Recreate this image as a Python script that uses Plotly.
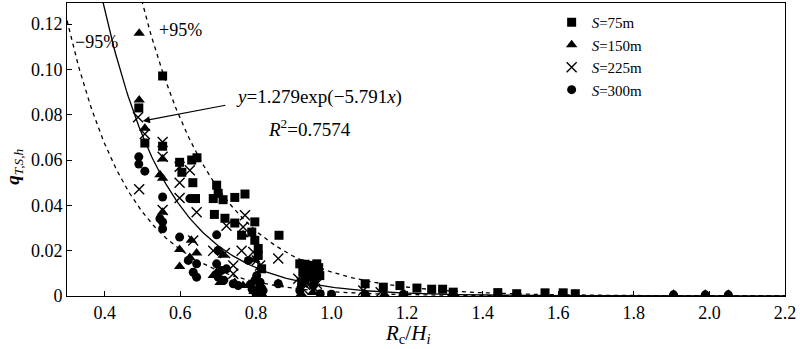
import numpy as np
import plotly.graph_objects as go

# Overtopping rate q_T,S,h versus relative freeboard Rc/Hi for four spacings S
x_s75 = [0.553, 0.490, 0.506, 0.553, 0.598, 0.630, 0.644, 0.604, 0.633, 0.640,
         0.696, 0.700, 0.687, 0.713, 0.744, 0.771, 0.690, 0.718, 0.744, 0.797,
         0.762, 0.789, 0.797, 0.806, 0.806, 0.815, 0.861, 0.916, 0.924, 0.938,
         0.947, 0.961, 0.961, 0.969, 0.935, 0.921, 0.930, 0.955, 0.942, 0.966,
         0.930, 0.955, 1.089, 1.137, 1.181, 1.226, 1.265, 1.294, 1.322, 1.440,
         1.490, 1.565, 1.613, 1.645]
y_s75 = [0.0971, 0.0830, 0.0675, 0.0661, 0.0590, 0.0600, 0.0610, 0.0546, 0.0500, 0.0430,
         0.0489, 0.0453, 0.0430, 0.0425, 0.0435, 0.0450, 0.0360, 0.0343, 0.0322, 0.0327,
         0.0268, 0.0282, 0.0246, 0.0210, 0.0179, 0.0120, 0.0268, 0.0142, 0.0105, 0.0090,
         0.0135, 0.0142, 0.0105, 0.0090, 0.0125, 0.0060, 0.0140, 0.0120, 0.0110, 0.0125,
         0.0075, 0.0075, 0.0054, 0.0039, 0.0046, 0.0035, 0.0030, 0.0030, 0.0017, 0.0015,
         0.0010, 0.0014, 0.0014, 0.0010]

x_s150 = [0.491, 0.491, 0.506, 0.553, 0.553, 0.546, 0.553, 0.598, 0.598, 0.629,
          0.643, 0.625, 0.687, 0.696, 0.713, 0.744, 0.766, 0.766, 0.859, 0.797,
          0.810, 0.705, 0.795, 0.815, 0.920, 0.950, 1.090, 1.140, 1.190, 1.322,
          1.440, 1.490, 1.565, 1.613, 1.645, 1.905, 1.989, 2.050]
y_s150 = [0.1160, 0.0865, 0.0740, 0.0605, 0.0520, 0.0535, 0.0370, 0.0205, 0.0130, 0.0246,
          0.0190, 0.0170, 0.0090, 0.0105, 0.0180, 0.0060, 0.0046, 0.0270, 0.0055, 0.0160,
          0.0030, 0.0060, 0.0020, 0.0010, 0.0010, 0.0015, 0.0008, 0.0008, 0.0008, 0.0008,
          0.0008, 0.0008, 0.0008, 0.0008, 0.0008, 0.0008, 0.0008, 0.0008]

x_s225 = [0.488, 0.506, 0.553, 0.553, 0.491, 0.553, 0.598, 0.598, 0.598, 0.625,
          0.643, 0.634, 0.687, 0.718, 0.722, 0.740, 0.740, 0.771, 0.766, 0.762,
          0.793, 0.802, 0.811, 0.859, 0.912, 0.921, 0.947, 0.961, 0.924, 0.956,
          0.930, 1.084, 1.130]
y_s225 = [0.0789, 0.0715, 0.0680, 0.0615, 0.0471, 0.0380, 0.0570, 0.0500, 0.0432, 0.0555,
          0.0370, 0.0245, 0.0200, 0.0190, 0.0310, 0.0135, 0.0098, 0.0356, 0.0305, 0.0200,
          0.0194, 0.0157, 0.0135, 0.0165, 0.0076, 0.0061, 0.0061, 0.0054, 0.0032, 0.0032,
          0.0050, 0.0024, 0.0017]

x_s300 = [0.490, 0.490, 0.506, 0.553, 0.546, 0.553, 0.553, 0.598, 0.625, 0.621,
          0.643, 0.634, 0.643, 0.696, 0.696, 0.709, 0.722, 0.700, 0.700, 0.740,
          0.753, 0.780, 0.802, 0.811, 0.806, 0.819, 0.797, 0.859, 0.916, 0.951,
          0.938, 0.970, 1.000, 1.090, 1.190, 0.790, 0.800, 0.815, 0.785, 0.810,
          0.715, 1.905, 1.989, 2.050]
y_s300 = [0.0614, 0.0582, 0.0551, 0.0437, 0.0341, 0.0327, 0.0297, 0.0260, 0.0430, 0.0157,
          0.0142, 0.0105, 0.0083, 0.0270, 0.0142, 0.0113, 0.0120, 0.0201, 0.0083, 0.0054,
          0.0046, 0.0157, 0.0090, 0.0061, 0.0024, 0.0024, 0.0069, 0.0054, 0.0024, 0.0046,
          0.0090, 0.0010, 0.0008, 0.0005, 0.0008, 0.0030, 0.0010, 0.0035, 0.0050, 0.0045,
          0.0070, 0.0005, 0.0005, 0.0005]

# Exponential regression y = a*exp(b*x) and its 95% band
fit_a, fit_b = 1.279, -5.791
upper_a, upper_b = 1.57, -5.0
lower_a, lower_b = 0.725, -5.95

x_ticks = [0.4, 0.6, 0.8, 1.0, 1.2, 1.4, 1.6, 1.8, 2.0, 2.2]
y_ticks = [0, 0.02, 0.04, 0.06, 0.08, 0.10, 0.12]
y_tick_text = ["0", "0.02", "0.04", "0.06", "0.08", "0.10", "0.12"]

FONT = "Liberation Serif"
xc = np.linspace(0.3, 2.2, 400)

fig = go.Figure()

fig.add_trace(go.Scatter(x=xc, y=fit_a * np.exp(fit_b * xc), mode="lines",
                         line=dict(color="black", width=1.3), showlegend=False,
                         hoverinfo="skip"))
for a, b in [(upper_a, upper_b), (lower_a, lower_b)]:
    fig.add_trace(go.Scatter(x=xc, y=a * np.exp(b * xc), mode="lines",
                             line=dict(color="black", width=1.3, dash="4px,4px"),
                             showlegend=False, hoverinfo="skip"))

fig.add_trace(go.Scatter(x=x_s75, y=y_s75, mode="markers", name="<i>S</i>=75m",
                         marker=dict(symbol="square", size=9, color="black")))
fig.add_trace(go.Scatter(x=x_s150, y=y_s150, mode="markers", name="<i>S</i>=150m",
                         marker=dict(symbol="triangle-up", size=10, color="black")))
fig.add_trace(go.Scatter(x=x_s225, y=y_s225, mode="markers", name="<i>S</i>=225m",
                         marker=dict(symbol="x-thin", size=10, color="black",
                                     line=dict(color="black", width=1.4))))
fig.add_trace(go.Scatter(x=x_s300, y=y_s300, mode="markers", name="<i>S</i>=300m",
                         marker=dict(symbol="circle", size=9, color="black")))

axis_common = dict(showline=True, linecolor="black", linewidth=1, mirror=True,
                   ticks="inside", ticklen=5, tickcolor="black", showgrid=False,
                   zeroline=False, tickfont=dict(family=FONT, size=18, color="black"))

fig.update_xaxes(range=[0.3, 2.2], tickvals=x_ticks, tickformat=".1f", **axis_common)
fig.update_yaxes(range=[0, 0.1293], tickvals=y_ticks, ticktext=y_tick_text, **axis_common)

ann_font = dict(family=FONT, size=18, color="black")
fig.add_annotation(x=0.379, y=0.112, text="−95%", showarrow=False, font=ann_font)
fig.add_annotation(x=0.600, y=0.1175, text="+95%", showarrow=False, font=ann_font)
fig.add_annotation(x=0.968, y=0.0878, text="<i>y</i>=1.279exp(−5.791<i>x</i>)",
                   showarrow=False, font=dict(family=FONT, size=19, color="black"))
fig.add_annotation(x=0.942, y=0.0741, text="<i>R</i><sup>2</sup>=0.7574",
                   showarrow=False, font=dict(family=FONT, size=19, color="black"))
fig.add_annotation(x=0.5005, y=0.0772, ax=0.723, ay=0.0843, axref="x", ayref="y",
                   text="", showarrow=True, arrowhead=2, arrowsize=1.2, arrowwidth=1.2,
                   arrowcolor="black", standoff=0)

# axis titles
fig.add_annotation(x=1.2, y=-0.13, xref="x", yref="paper", xanchor="center",
                   yanchor="middle",
                   text="<i>R</i><sub>c</sub>/<i>H</i><sub><i>i</i></sub>",
                   showarrow=False, font=dict(family=FONT, size=21, color="black"))
fig.add_annotation(x=-0.074, y=0.057, xref="paper", yref="y", xanchor="center",
                   yanchor="middle", textangle=-90,
                   text="<b><i>q</i></b><sub><i>T,S,h</i></sub>",
                   showarrow=False, font=dict(family=FONT, size=19, color="black"))

fig.update_layout(
    width=800, height=349,
    margin=dict(l=67, r=15, t=3, b=53),
    paper_bgcolor="white", plot_bgcolor="white",
    font=dict(family=FONT, color="black"),
    legend=dict(x=0.675, y=0.99, xanchor="left", yanchor="top",
                bgcolor="rgba(0,0,0,0)", font=dict(family=FONT, size=15, color="black"),
                itemwidth=30, tracegroupgap=0),
)

fig.write_html("out.html")
